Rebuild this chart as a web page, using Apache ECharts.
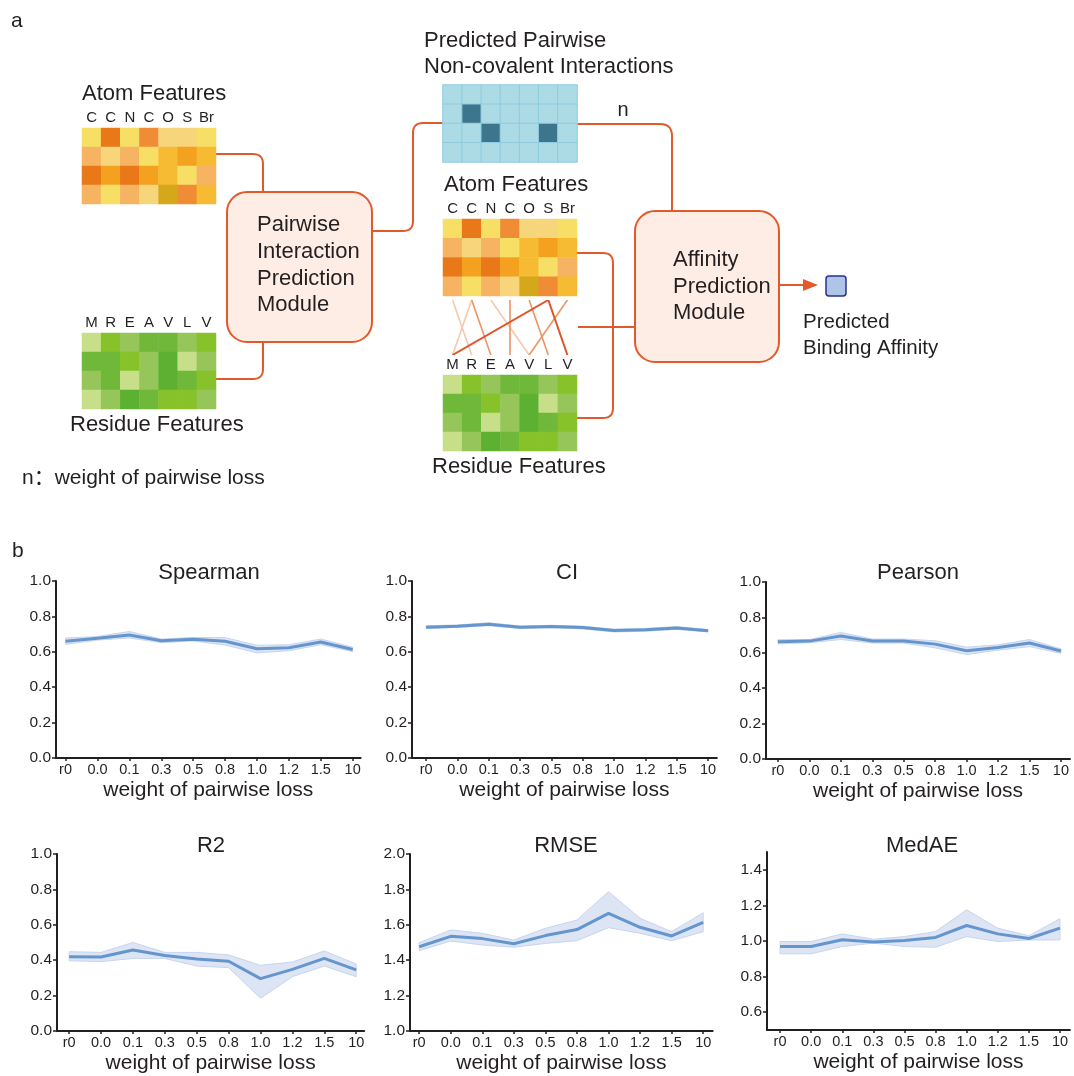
<!DOCTYPE html>
<html>
<head>
<meta charset="utf-8">
<script src="https://cdn.jsdelivr.net/npm/echarts@6/dist/echarts.min.js"></script>
<style>html,body{margin:0;padding:0;background:#fff}#c{width:1074px;height:1076px}</style>
</head>
<body>
<div id="c"></div>
<script>
// ---------------- data ----------------
const cats = ['r0','0.0','0.1','0.3','0.5','0.8','1.0','1.2','1.5','10'];

const spearmanMean = [0.660,0.676,0.695,0.662,0.671,0.660,0.617,0.623,0.655,0.613];
const spearmanLo   = [0.642,0.666,0.678,0.652,0.661,0.638,0.594,0.606,0.640,0.601];
const spearmanHi   = [0.678,0.686,0.715,0.672,0.681,0.680,0.637,0.640,0.672,0.626];

const ciMean = [0.739,0.745,0.756,0.739,0.743,0.737,0.720,0.724,0.735,0.719];
const ciLo   = [0.731,0.738,0.747,0.732,0.736,0.729,0.712,0.716,0.727,0.712];
const ciHi   = [0.747,0.752,0.764,0.746,0.750,0.745,0.728,0.732,0.743,0.726];

const pearsonMean = [0.662,0.666,0.695,0.667,0.667,0.649,0.612,0.630,0.655,0.610];
const pearsonLo   = [0.650,0.657,0.675,0.655,0.655,0.628,0.590,0.615,0.635,0.597];
const pearsonHi   = [0.674,0.675,0.715,0.678,0.678,0.668,0.632,0.645,0.675,0.622];

const r2Mean = [0.420,0.418,0.458,0.427,0.407,0.394,0.296,0.348,0.410,0.345];
const r2Lo   = [0.397,0.392,0.410,0.410,0.367,0.358,0.185,0.307,0.367,0.307];
const r2Hi   = [0.448,0.444,0.500,0.444,0.444,0.430,0.371,0.390,0.452,0.379];

const rmseMean = [1.476,1.535,1.522,1.493,1.539,1.573,1.665,1.586,1.537,1.614];
const rmseLo   = [1.454,1.508,1.486,1.473,1.495,1.510,1.584,1.552,1.510,1.561];
const rmseHi   = [1.499,1.571,1.552,1.514,1.580,1.627,1.787,1.637,1.561,1.668];

const medaeMean = [0.969,0.969,1.007,0.995,1.003,1.020,1.087,1.040,1.014,1.072];
const medaeLo   = [0.928,0.928,0.969,0.988,0.969,0.965,1.025,0.997,1.006,1.006];
const medaeHi   = [0.997,0.997,1.040,1.010,1.025,1.053,1.175,1.072,1.030,1.125];

const unitTicks  = [0.0,0.2,0.4,0.6,0.8,1.0];
const rmseTicks  = [1.0,1.2,1.4,1.6,1.8,2.0];
const medaeTicks = [0.6,0.8,1.0,1.2,1.4];

const atomLetters = ['C','C','N','C','O','S','Br'];
const residueLetters = ['M','R','E','A','V','L','V'];
// feature levels (index into palette)
const atomFeat = [[0,6,0,5,1,1,0],[2,1,2,0,3,4,3],[6,4,6,4,3,0,2],[2,0,2,1,7,5,3]];
const residueFeat = [[0,2,1,3,3,1,2],[3,3,2,1,4,0,1],[1,3,0,1,4,3,2],[0,1,4,3,2,2,1]];
const pairMat = [[0,0,0,0,0,0,0],[0,1,0,0,0,0,0],[0,0,1,0,0,1,0],[0,0,0,0,0,0,0]];
// atom column -> residue column, strength level
const crossPairs = [[0,1,0],[1,0,0],[1,2,1],[2,4,0],[3,3,1],[4,5,1],[6,4,1],[5,0,2],[5,6,2]];

// ---------------- styles ----------------
const FONT = '"Liberation Sans", Arial, "Noto Sans CJK SC", sans-serif';
const INK = '#231f20';
const ORANGE = '#e25a2c';
const BOXFILL = '#fdede5';
const LINEBLUE = '#6496cd';
const atomPalette = ['#f7df66','#f7d57a','#f6b462','#f6bb33','#f4a11f','#f08b36','#e87818','#d5a71a'];
const greenPalette = ['#c8df89','#96c55a','#87c22a','#70b83a','#5cb133'];
const bluePalette = ['#acdbe6','#3d758c'];
const crossStyles = [{c:'#f6c6a6',w:1.5},{c:'#ec9463',w:1.6},{c:'#e0552a',w:2}];

const metrics = [
  {title:'Spearman', mean:spearmanMean, lo:spearmanLo, hi:spearmanHi, yMin:0, yMax:1, ticks:unitTicks,
   left:56, top:581, h:177, xMin:-0.30, xMax:9.25, unit:31.9, tx:209, ty:573},
  {title:'CI', mean:ciMean, lo:ciLo, hi:ciHi, yMin:0, yMax:1, ticks:unitTicks,
   left:412, top:581, h:177, xMin:-0.45, xMax:9.28, unit:31.33, tx:567, ty:573},
  {title:'Pearson', mean:pearsonMean, lo:pearsonLo, hi:pearsonHi, yMin:0, yMax:1, ticks:unitTicks,
   left:766, top:582, h:177, xMin:-0.38, xMax:9.29, unit:31.44, tx:918, ty:573},
  {title:'R2', mean:r2Mean, lo:r2Lo, hi:r2Hi, yMin:0, yMax:1, ticks:unitTicks,
   left:57, top:854, h:177, xMin:-0.38, xMax:9.25, unit:31.9, tx:211, ty:846},
  {title:'RMSE', mean:rmseMean, lo:rmseLo, hi:rmseHi, yMin:1, yMax:2, ticks:rmseTicks,
   left:410, top:854, h:177, xMin:-0.29, xMax:9.3, unit:31.56, tx:566, ty:846},
  {title:'MedAE', mean:medaeMean, lo:medaeLo, hi:medaeHi, yMin:0.5, yMax:1.5, ticks:medaeTicks,
   left:767, top:852, h:178, xMin:-0.42, xMax:9.32, unit:31.1, tx:922, ty:846}
];

const grids = [], xAxes = [], yAxes = [], series = [], visualMaps = [], graphics = [];
const idx = cats.map((c,i)=>i);

metrics.forEach((m,k)=>{
  grids.push({left:m.left, top:m.top, width:(m.xMax-m.xMin)*m.unit, height:m.h, containLabel:false, outerBoundsMode:'none'});
  xAxes.push({type:'value', gridIndex:k, min:m.xMin, max:m.xMax,
    axisLine:{show:true, onZero:false, lineStyle:{color:INK, width:2}},
    axisTick:{show:true, length:3, customValues:idx, lineStyle:{color:INK, width:1.5}},
    axisLabel:{customValues:idx, formatter:(v)=>cats[Math.round(v)], fontSize:14.5, color:INK, margin:5, fontFamily:FONT},
    splitLine:{show:false},
    name:'weight of pairwise loss', nameLocation:'middle', nameGap:22,
    nameTextStyle:{fontSize:21, color:INK, fontFamily:FONT}
  });
  yAxes.push({type:'value', gridIndex:k, min:m.yMin, max:m.yMax,
    axisLine:{show:true, onZero:false, lineStyle:{color:INK, width:2}},
    axisTick:{show:true, length:4, customValues:m.ticks, lineStyle:{color:INK, width:1.5}},
    axisLabel:{customValues:m.ticks, formatter:(v)=>Number(v).toFixed(1), fontSize:15.5, color:INK, margin:5, fontFamily:FONT},
    splitLine:{show:false}
  });
  const lo = m.lo, hi = m.hi;
  series.push({type:'custom', xAxisIndex:k, yAxisIndex:k, silent:true, z:1,
    data:[[0, lo[0]]],
    renderItem:(params, api)=>{
      const pts = [];
      for (let i=0;i<hi.length;i++) pts.push(api.coord([i, hi[i]]));
      for (let i=lo.length-1;i>=0;i--) pts.push(api.coord([i, lo[i]]));
      return {type:'polygon', shape:{points:pts}, style:{fill:'#dde5f4', stroke:'#c7d5ef', lineWidth:1}};
    }
  });
  series.push({type:'line', xAxisIndex:k, yAxisIndex:k, silent:true, z:3,
    data:m.mean.map((v,i)=>[i,v]), showSymbol:false, symbol:'none',
    lineStyle:{color:LINEBLUE, width:3}
  });
  graphics.push({type:'text', x:m.tx, y:m.ty, style:{text:m.title, font:'22px '+FONT, fill:INK,
    textAlign:'center', align:'center', textVerticalAlign:'middle', verticalAlign:'middle'}});
});

// -------- heatmaps (diagram) --------
const heatDefs = [
  {mat:atomFeat, pal:atomPalette, letters:atomLetters, left:82, top:128, w:134, h:76, border:false},
  {mat:residueFeat, pal:greenPalette, letters:residueLetters, left:82, top:333, w:134, h:76, border:false},
  {mat:pairMat, pal:bluePalette, letters:null, left:443, top:85, w:134, h:77, border:true},
  {mat:atomFeat, pal:atomPalette, letters:atomLetters, left:443, top:219, w:134, h:77, border:false},
  {mat:residueFeat, pal:greenPalette, letters:residueLetters, left:443, top:375, w:134, h:76, border:false}
];
heatDefs.forEach((d)=>{
  const gi = grids.length;
  grids.push({left:d.left, top:d.top, width:d.w, height:d.h, containLabel:false, outerBoundsMode:'none'});
  const letters = d.letters;
  xAxes.push({type:'category', gridIndex:gi, position:'top', data:d.mat[0].map((v,i)=>String(i)),
    axisLine:{show:false}, axisTick:{show:false}, splitLine:{show:false},
    axisLabel:{show:!!letters, interval:0, margin:3, fontSize:15, color:INK, fontFamily:FONT,
      formatter:(v,i)=>letters ? letters[i] : ''}});
  yAxes.push({type:'category', gridIndex:gi, inverse:true, data:d.mat.map((r,i)=>String(i)),
    axisLine:{show:false}, axisTick:{show:false}, axisLabel:{show:false}, splitLine:{show:false}});
  const data = [];
  d.mat.forEach((row,r)=>row.forEach((lv,c)=>data.push([c,r,lv])));
  const si = series.length;
  series.push({type:'heatmap', xAxisIndex:gi, yAxisIndex:gi, data, silent:true,
    itemStyle: d.border ? {borderColor:'#8ecbe0', borderWidth:1} : {borderWidth:0}});
  visualMaps.push({type:'piecewise', show:false, seriesIndex:si, dimension:2,
    pieces:d.pal.map((c,i)=>({value:i, color:c}))});
});

// -------- pairwise interaction lines between atom and residue features --------
{
  const gi = grids.length;
  grids.push({left:443, top:300, width:134, height:55, containLabel:false, outerBoundsMode:'none'});
  xAxes.push({type:'value', gridIndex:gi, min:0, max:7, show:false});
  yAxes.push({type:'value', gridIndex:gi, min:0, max:1, show:false});
  series.push({type:'lines', coordinateSystem:'cartesian2d', xAxisIndex:gi, yAxisIndex:gi, silent:true,
    data:crossPairs.map(p=>({coords:[[p[0]+0.5,1],[p[1]+0.5,0]],
      lineStyle:{color:crossStyles[p[2]].c, width:crossStyles[p[2]].w, opacity:1}})),
    lineStyle:{curveness:0}
  });
}

// -------- diagram graphics --------
function txt(x,y,s,size,align){
  align = align || 'left';
  return {type:'text', x, y, style:{text:s, font:size+'px '+FONT, fill:INK,
    textAlign:align, align:align, textVerticalAlign:'middle', verticalAlign:'middle'}};
}
// polyline with rounded corners (corner points + radius)
function route(pts, r){
  const out = [pts[0]];
  for (let i=1;i<pts.length-1;i++){
    const p0=pts[i-1], p1=pts[i], p2=pts[i+1];
    const d1=[Math.sign(p1[0]-p0[0]), Math.sign(p1[1]-p0[1])];
    const d2=[Math.sign(p2[0]-p1[0]), Math.sign(p2[1]-p1[1])];
    const a=[p1[0]-d1[0]*r, p1[1]-d1[1]*r], b=[p1[0]+d2[0]*r, p1[1]+d2[1]*r];
    for (let k=0;k<=8;k++){
      const t=k/8;
      out.push([(1-t)*(1-t)*a[0]+2*(1-t)*t*p1[0]+t*t*b[0], (1-t)*(1-t)*a[1]+2*(1-t)*t*p1[1]+t*t*b[1]]);
    }
  }
  out.push(pts[pts.length-1]);
  return {type:'polyline', shape:{points:out}, style:{stroke:ORANGE, lineWidth:2, fill:null}};
}
graphics.push(
  txt(11,21,'a',21), txt(12,551,'b',21),
  txt(82,94,'Atom Features',22), txt(70,425,'Residue Features',22),
  txt(444,185,'Atom Features',22), txt(432,467,'Residue Features',22),
  txt(424,41,'Predicted Pairwise',22), txt(424,67,'Non-covalent Interactions',22),
  txt(623,110,'n',20,'center'),
  txt(22,478,'n：weight of pairwise loss',21),
  {type:'rect', shape:{x:227,y:192,width:145,height:150,r:20}, style:{fill:BOXFILL, stroke:ORANGE, lineWidth:2}},
  {type:'rect', shape:{x:635,y:211,width:144,height:151,r:20}, style:{fill:BOXFILL, stroke:ORANGE, lineWidth:2}},
  txt(257,225,'Pairwise',22), txt(257,252,'Interaction',22), txt(257,279,'Prediction',22), txt(257,305,'Module',22),
  txt(673,260,'Affinity',22), txt(673,287,'Prediction',22), txt(673,313,'Module',22),
  route([[216,154],[263,154],[263,192]],10),
  route([[216,379],[263,379],[263,342]],10),
  route([[372,231],[413,231],[413,123],[443,123]],10),
  route([[577,124],[672,124],[672,211]],12),
  route([[577,253],[613,253],[613,418],[577,418]],10),
  route([[578,327],[635,327]],0),
  route([[779,285],[806,285]],0),
  {type:'polygon', shape:{points:[[803,279],[818,285],[803,291]]}, style:{fill:ORANGE}},
  {type:'rect', shape:{x:826,y:276,width:20,height:20,r:3}, style:{fill:'#aec5e7', stroke:'#27308c', lineWidth:1.5}},
  txt(803,322,'Predicted',20.5), txt(803,348,'Binding Affinity',20.5)
);

const chart = echarts.init(document.getElementById('c'), null, {renderer:'canvas'});
chart.setOption({
  animation:false,
  backgroundColor:'#ffffff',
  textStyle:{fontFamily:FONT},
  grid:grids, xAxis:xAxes, yAxis:yAxes, visualMap:visualMaps, series:series,
  graphic:{elements:graphics}
});
</script>
</body>
</html>
